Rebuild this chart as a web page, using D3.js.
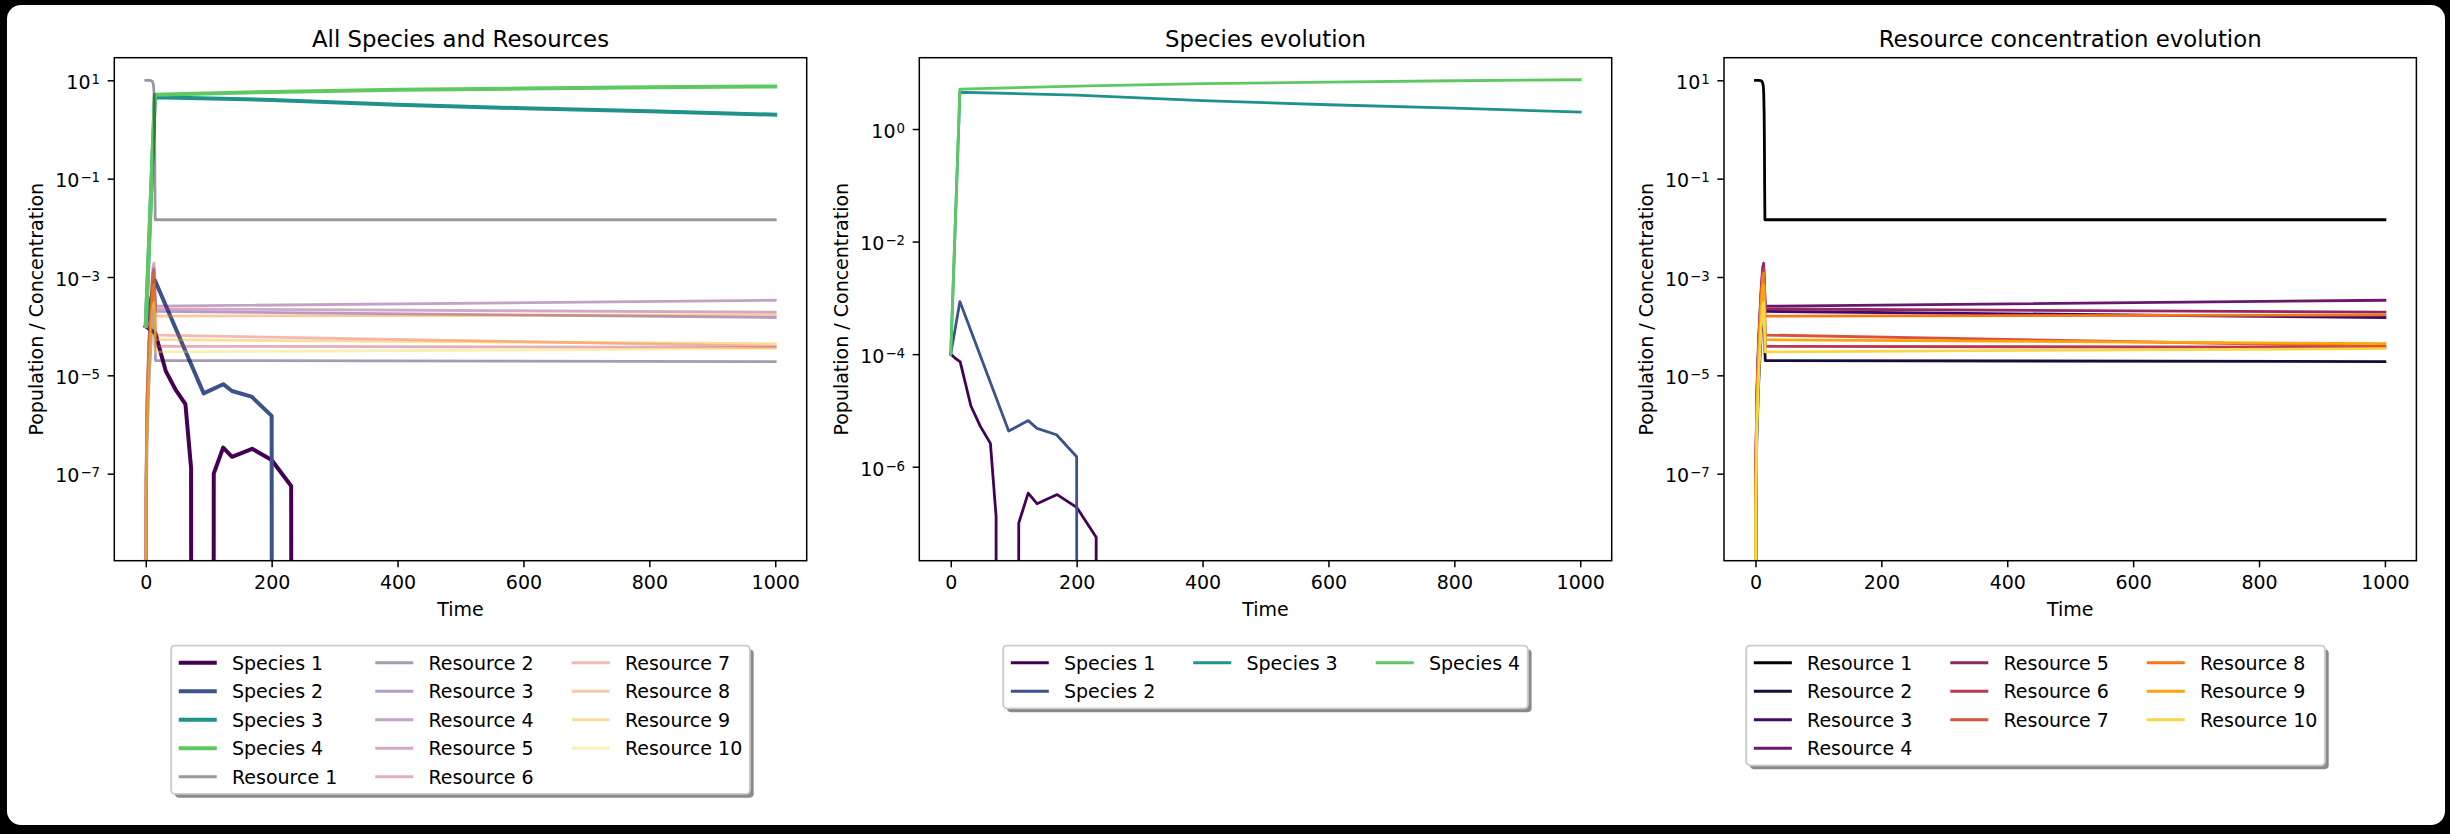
<!DOCTYPE html>
<html>
<head>
<meta charset="utf-8">
<script src="https://cdn.jsdelivr.net/npm/d3@7"></script>
<style>
  html, body { margin: 0; padding: 0; background: #000; }
  svg { display: block; }
  text { font-family: "DejaVu Sans", sans-serif; }
</style>
</head>
<body>
<svg id="fig" width="2450" height="834"></svg>
<script>
// ---- data: [time, value] pairs (0 = extinct / not yet present)
const species1 = [[0,1e-4],[8,8.3e-5],[15,7.3e-5],[32,1.2e-5],[47,5.2e-6],[63,2.6e-6],[72,1.3e-7],[73,0],[107,0],[108,1e-7],[123,3.4e-7],[137,2.2e-7],[169,3.2e-7],[200,1.9e-7],[231,5.6e-8],[232,0],[1000,0]]
const species2 = [[0,1e-4],[14.5,8.6e-4],[92,4.3e-6],[123,6.6e-6],[137,4.8e-6],[168,3.7e-6],[200,1.5e-6],[201,0],[1000,0]]
const species3 = [[0,1e-4],[14.5,4.5],[200,4.0],[400,3.2],[600,2.7],[800,2.35],[1000,2.0]]
const species4 = [[0,1e-4],[14.5,5.1],[200,5.8],[400,6.4],[600,6.8],[800,7.2],[1000,7.5]]

const resource1  = [[0,10],[5,10],[8,9.9],[10,9.6],[11.5,8.8],[12.5,7.5],[13.2,5],[13.8,2],[14.2,0.5],[14.6,0.06],[15,0.0146],[1000,0.0146]]
const resource2  = [[0,0],[0.5,1.1e-8],[2,4.4e-7],[5,6.6e-6],[9,6.6e-5],[11.5,1.9e-4],[13,2.2e-4],[14.3,7e-5],[15.5,2.0e-5],[1000,1.9e-5]]
const resource3  = [[0,0],[0.5,3e-8],[2,1.2e-6],[5,1.8e-5],[9,1.8e-4],[11.5,5.1e-4],[13,6e-4],[14.3,3.5e-4],[15.5,2.0e-4],[1000,1.5e-4]]
const resource4  = [[0,0],[0.5,7e-8],[2,2.8e-6],[5,4.2e-5],[9,4.2e-4],[11.5,1.2e-3],[13,1.4e-3],[14.3,6e-4],[15.5,2.55e-4],[1000,3.36e-4]]
const resource5  = [[0,0],[0.5,9.5e-8],[2,3.8e-6],[5,5.7e-5],[9,5.7e-4],[11.5,1.6e-3],[13,1.9e-3],[14.3,6.5e-4],[15.5,2.24e-4],[1000,1.93e-4]]
const resource6  = [[0,0],[0.5,7.5e-8],[2,3e-6],[5,4.5e-5],[9,4.5e-4],[11.5,1.3e-3],[13,1.5e-3],[14.3,2.4e-4],[15.5,3.9e-5],[1000,3.7e-5]]
const resource7  = [[0,0],[0.5,5e-8],[2,2e-6],[5,3e-5],[9,3e-4],[11.5,8.5e-4],[13,1.0e-3],[14.3,2.6e-4],[15.5,6.6e-5],[1000,3.9e-5]]
const resource8  = [[0,0],[0.5,6e-8],[2,2.4e-6],[5,3.6e-5],[9,3.6e-4],[11.5,1.0e-3],[13,1.2e-3],[14.3,4.4e-4],[15.5,1.6e-4],[1000,1.7e-4]]
const resource9  = [[0,0],[0.5,3.5e-8],[2,1.4e-6],[5,2.1e-5],[9,2.1e-4],[11.5,6e-4],[13,7e-4],[14.3,1.9e-4],[15.5,5.3e-5],[1000,4.4e-5]]
const resource10 = [[0,0],[0.5,1.5e-8],[2,6e-7],[5,9e-6],[9,9e-5],[11.5,2.6e-4],[13,3e-4],[14.3,9.5e-5],[15.5,3.0e-5],[1000,3.5e-5]]

const speciesNames  = ['Species 1','Species 2','Species 3','Species 4']
const resourceNames = ['Resource 1','Resource 2','Resource 3','Resource 4','Resource 5','Resource 6','Resource 7','Resource 8','Resource 9','Resource 10']
const speciesData  = [species1, species2, species3, species4]
const resourceData = [resource1, resource2, resource3, resource4, resource5, resource6, resource7, resource8, resource9, resource10]

const timeTicks = [0, 200, 400, 600, 800, 1000]
const logTicksAll = [1e1, 1e-1, 1e-3, 1e-5, 1e-7]
const logTicksSpecies = [1e0, 1e-2, 1e-4, 1e-6]

// ---- layout
const W = 2450, H = 834
const axTop = 57.7, axBottom = 560.7, axW = 692.4
const timeDomain = [-50, 1050]
const F = 19   // 10pt text

const svg = d3.select('#fig')
svg.append('rect').attr('width', W).attr('height', H).attr('fill', '#000')
svg.append('rect').attr('x', 7).attr('y', 5).attr('width', W - 12).attr('height', H - 14).attr('rx', 14).attr('fill', '#fff')

const speciesColor = i => d3.interpolateViridis(i / 4)
const resourceColor = i => d3.interpolateInferno(i / 10)

const species = speciesNames.map((n, i) => ({name: n, data: speciesData[i], color: speciesColor(i)}))
const resources = resourceNames.map((n, i) => ({name: n, data: resourceData[i], color: resourceColor(i)}))

const panels = [
  {
    id: 'p1', left: 114.3, title: 'All Species and Resources',
    yDomain: [Math.pow(10, -8.77), Math.pow(10, 1.46)], yTicks: logTicksAll, anchor: 0.5,
    series: species.map(s => ({...s, width: 4, opacity: 1}))
      .concat(resources.map(s => ({...s, width: 2.8, opacity: 0.4})))
  },
  {
    id: 'p2', left: 919.3, title: 'Species evolution',
    yDomain: [Math.pow(10, -7.67), Math.pow(10, 1.267)], yTicks: logTicksSpecies, anchor: 0.5,
    series: species.map(s => ({...s, width: 2.8, opacity: 1}))
  },
  {
    id: 'p3', left: 1724, title: 'Resource concentration evolution',
    yDomain: [Math.pow(10, -8.77), Math.pow(10, 1.46)], yTicks: logTicksAll, anchor: 0.45,
    series: resources.map(s => ({...s, width: 2.8, opacity: 1}))
  }
]

const supText = e => (e < 0 ? '\u2212' + (-e) : '' + e)

panels.forEach(p => {
  const g = svg.append('g')
  const x = d3.scaleLinear().domain(timeDomain).range([p.left, p.left + axW])
  const y = d3.scaleLog().domain(p.yDomain).range([axBottom, axTop])

  // clip to the axes box
  svg.append('clipPath').attr('id', 'clip-' + p.id)
    .append('rect').attr('x', p.left).attr('y', axTop).attr('width', axW).attr('height', axBottom - axTop)

  const line = d3.line()
    .x(d => x(d[0]))
    .y(d => y(d[1] > 0 ? d[1] : 1e-30))

  g.append('g').attr('clip-path', `url(#clip-${p.id})`)
    .selectAll('path')
    .data(p.series)
    .join('path')
    .attr('d', d => line(d.data))
    .attr('fill', 'none')
    .attr('stroke', d => d.color)
    .attr('stroke-opacity', d => d.opacity)
    .attr('stroke-width', d => d.width)
    .attr('stroke-linejoin', 'round')
    .attr('stroke-linecap', 'square')

  // x axis
  g.append('g')
    .attr('transform', `translate(0,${axBottom})`)
    .call(d3.axisBottom(x).tickValues(timeTicks).tickSize(6.65).tickFormat(d3.format('d')))
    .call(a => a.select('.domain').remove())
    .call(a => a.selectAll('.tick line').attr('stroke', '#000').attr('stroke-width', 1.5))
    .call(a => a.selectAll('.tick text')
      .attr('y', 28.3).attr('dy', null).attr('fill', '#000')
      .attr('font-size', F).attr('font-family', '"DejaVu Sans", sans-serif'))

  // y axis (log, labels as 10^n)
  const yAx = g.append('g')
    .attr('transform', `translate(${p.left},0)`)
    .call(d3.axisLeft(y).tickValues(p.yTicks).tickSize(6.65).tickFormat(d => Math.round(Math.log10(d))))
    .call(a => a.select('.domain').remove())
    .call(a => a.selectAll('.tick line').attr('stroke', '#000').attr('stroke-width', 1.5))
  yAx.selectAll('.tick text').each(function (d) {
    const t = d3.select(this)
    const e = Math.round(Math.log10(d))
    t.text(null).attr('x', -14.3).attr('y', 8.3).attr('dy', null).attr('fill', '#000')
      .attr('font-size', F).attr('font-family', '"DejaVu Sans", sans-serif')
    t.append('tspan').text('10')
    t.append('tspan').attr('dx', 1).attr('dy', -5).attr('font-size', 13.3).text(supText(e))
  })

  // frame
  g.append('rect')
    .attr('x', p.left).attr('y', axTop).attr('width', axW).attr('height', axBottom - axTop)
    .attr('fill', 'none').attr('stroke', '#000').attr('stroke-width', 1.5)

  // title + axis labels
  const cx = p.left + axW / 2
  g.append('text').attr('x', cx).attr('y', 46.5).attr('text-anchor', 'middle')
    .attr('font-size', 22.8).attr('fill', '#000').text(p.title)
  g.append('text').attr('x', cx).attr('y', 616).attr('text-anchor', 'middle')
    .attr('font-size', F).attr('fill', '#000').text('Time')

  let minX = Infinity
  yAx.selectAll('.tick text').each(function () { minX = Math.min(minX, this.getBoundingClientRect().left) })
  const ly = (axTop + axBottom) / 2
  const lx = minX - 7.6 - 4.5
  g.append('text').attr('transform', `translate(${lx},${ly}) rotate(-90)`)
    .attr('text-anchor', 'middle').attr('font-size', F).attr('fill', '#000')
    .text('Population / Concentration')

  drawLegend(p.series, p.left + axW * p.anchor, axBottom + 0.15 * (axBottom - axTop) + 0.5 * F)
})

function drawLegend(items, cx, top) {
  const pad = 0.4 * F, hl = 2 * F, htp = 0.8 * F, cs = 2 * F, pitch = 1.5 * F
  const ncol = 3
  const nrows = Math.floor(items.length / ncol), nLarge = items.length % ncol
  const rowsPerCol = d3.range(ncol).map(c => c < nLarge ? nrows + 1 : nrows)
  const maxRows = d3.max(rowsPerCol)

  const lg = svg.append('g')
  // measure label widths
  const tmp = lg.append('g')
  const widths = items.map(it => tmp.append('text').attr('font-size', F).text(it.name).node().getComputedTextLength())
  tmp.remove()

  const cols = []
  let k = 0
  rowsPerCol.forEach(n => { cols.push(items.slice(k, k + n).map((it, i) => ({...it, w: widths[k + i]}))); k += n })
  const colW = cols.map(c => hl + htp + d3.max(c, d => d.w))
  const boxW = 2 * pad + d3.sum(colW) + (ncol - 1) * cs
  const boxH = 2 * pad + maxRows * F + (maxRows - 1) * 0.5 * F
  const left = cx - boxW / 2

  lg.append('rect').attr('x', left + 3.8).attr('y', top + 3.8).attr('width', boxW).attr('height', boxH)
    .attr('rx', 3.8).attr('fill', '#8a8a8a')
  lg.append('rect').attr('x', left).attr('y', top).attr('width', boxW).attr('height', boxH)
    .attr('rx', 3.8).attr('fill', '#fff').attr('stroke', '#cccccc').attr('stroke-width', 1.9)

  let x0 = left + pad
  cols.forEach((c, ci) => {
    c.forEach((it, ri) => {
      const yc = top + pad + F / 2 + ri * pitch
      lg.append('line').attr('x1', x0).attr('x2', x0 + hl).attr('y1', yc).attr('y2', yc)
        .attr('stroke', it.color).attr('stroke-opacity', it.opacity).attr('stroke-width', it.width)
      lg.append('text').attr('x', x0 + hl + htp).attr('y', yc + 0.36 * F)
        .attr('font-size', F).attr('fill', '#000').text(it.name)
    })
    x0 += colW[ci] + cs
  })
}
</script>
</body>
</html>
